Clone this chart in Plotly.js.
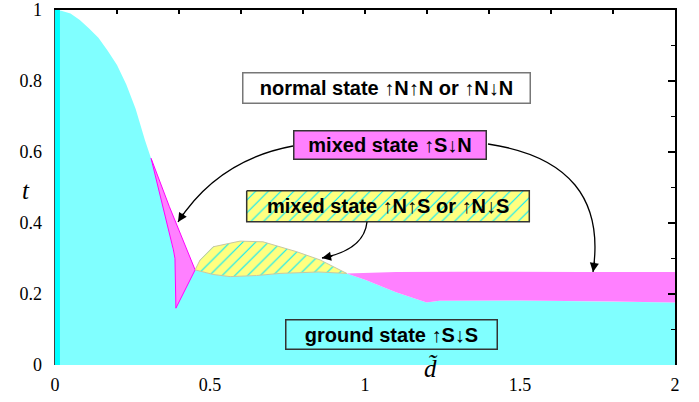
<!DOCTYPE html>
<html>
<head>
<meta charset="utf-8">
<script src="https://cdn.plot.ly/plotly-3.0.1.min.js"></script>
<style>html,body{margin:0;padding:0;background:#fff;}#chart{width:699px;height:402px;}</style>
</head>
<body>
<div id="chart"></div>
<script>
// ---- data ----
// upper edge of the ground state region (↑S↓S)
const groundX = [0, 0.02, 0.05, 0.08, 0.11, 0.14, 0.17, 0.2, 0.23, 0.26, 0.29, 0.31, 0.349, 0.382, 0.387, 0.39, 0.452, 0.51, 0.565, 0.65, 0.726, 0.85, 0.941, 1.0, 1.1, 1.199, 1.24, 1.5, 1.8, 2.0];
const groundT = [1, 0.998, 0.99, 0.972, 0.948, 0.922, 0.885, 0.845, 0.79, 0.722, 0.634, 0.582, 0.446, 0.324, 0.30, 0.16, 0.268, 0.255, 0.249, 0.252, 0.258, 0.262, 0.258, 0.24, 0.205, 0.176, 0.181, 0.182, 0.179, 0.176];
// mixed state ↑S↓N : narrow sliver near d~0.3-0.45
const sliverX = [0.31, 0.349, 0.382, 0.387, 0.39, 0.452, 0.41, 0.369, 0.31];
const sliverT = [0.582, 0.446, 0.324, 0.30, 0.16, 0.268, 0.36, 0.446, 0.582];
// mixed state ↑S↓N : band for d > 0.94 (upper edge)
const bandTopX = [0.941, 1.1, 1.3, 1.5, 1.7, 2.0];
const bandTopT = [0.258, 0.262, 0.263, 0.262, 0.262, 0.262];
// mixed state ↑N↑S or ↑N↓S : hatched dome (upper edge)
const domeTopX = [0.452, 0.468, 0.51, 0.597, 0.671, 0.78, 0.855, 0.941];
const domeTopT = [0.268, 0.296, 0.333, 0.349, 0.347, 0.319, 0.296, 0.258];
// thin strip at d≈0
const stripX = [0, 0.016];
const stripT = [0, 1];
// ticks
const xTicks = [0, 0.5, 1, 1.5, 2];
const xTickText = ['0', '0.5', '1', '1.5', '2'];
const yTicks = [0, 0.2, 0.4, 0.6, 0.8, 1];
const yTickText = ['0', '0.2', '0.4', '0.6', '0.8', '1'];
// labels
const labels = {
  normal: 'normal state ↑N↑N or ↑N↓N',
  mixedSN: 'mixed state ↑S↓N',
  mixedNS: 'mixed state ↑N↑S or ↑N↓S',
  ground: 'ground state ↑S↓S'
};

// ---- geometry helpers (pixel -> data) ----
const W = 699, H = 402;
const PL = 55, PR = 675, PT = 10, PB = 365;
const fx = p => (p - PL) / (PR - PL) * 2;
const fy = p => (PB - p) / (PB - PT);

function groundBetween(a, b) {
  const xs = [], ys = [];
  for (let i = 0; i < groundX.length; i++) {
    if (groundX[i] >= a - 1e-9 && groundX[i] <= b + 1e-9) { xs.push(groundX[i]); ys.push(groundT[i]); }
  }
  return {x: xs, y: ys};
}
const bandBot = groundBetween(0.941, 2.0);
const domeBot = groundBetween(0.452, 0.941);

const traces = [];
traces.push({x: groundX, y: groundT, type: 'scatter', mode: 'lines', fill: 'tozeroy',
  fillcolor: '#80ffff', line: {width: 0, color: '#80ffff'}, hoverinfo: 'skip', showlegend: false});
traces.push({x: [stripX[0], stripX[1], stripX[1], stripX[0], stripX[0]],
  y: [stripT[0], stripT[0], stripT[1], stripT[1], stripT[0]], type: 'scatter', mode: 'lines',
  fill: 'toself', fillcolor: '#00ffff', line: {width: 0, color: '#00ffff'}, hoverinfo: 'skip', showlegend: false});
traces.push({x: sliverX, y: sliverT, type: 'scatter', mode: 'lines', fill: 'toself',
  fillcolor: '#ff80ff', line: {width: 1, color: '#ff00ff'}, hoverinfo: 'skip', showlegend: false});
traces.push({x: bandTopX.concat(bandBot.x.slice().reverse()), y: bandTopT.concat(bandBot.y.slice().reverse()),
  type: 'scatter', mode: 'lines', fill: 'toself', fillcolor: '#ff80ff',
  line: {width: 0, color: '#ff80ff'}, hoverinfo: 'skip', showlegend: false});
traces.push({x: domeTopX.concat(domeBot.x.slice().reverse()), y: domeTopT.concat(domeBot.y.slice().reverse()),
  type: 'scatter', mode: 'lines', fill: 'toself', fillcolor: '#ffff80',
  fillpattern: {shape: '/', fgcolor: '#00e8ff', bgcolor: '#ffff80', size: 9, solidity: 0.12},
  line: {width: 1, color: '#c8c8a0'}, hoverinfo: 'skip', showlegend: false});
// hatched label box background
const hb = {l: 246.7, r: 529.3, t: 190.7, b: 221.7};
traces.push({x: [fx(hb.l), fx(hb.r), fx(hb.r), fx(hb.l), fx(hb.l)], y: [fy(hb.t), fy(hb.t), fy(hb.b), fy(hb.b), fy(hb.t)],
  type: 'scatter', mode: 'lines', fill: 'toself', fillcolor: '#ffff80',
  fillpattern: {shape: '/', fgcolor: '#00e8ff', bgcolor: '#ffff80', size: 9, solidity: 0.12},
  line: {width: 1.5, color: '#333'}, hoverinfo: 'skip', showlegend: false});
// dummy trace for top/right frame axes
traces.push({x: [0], y: [0], xaxis: 'x2', yaxis: 'y2', type: 'scatter', mode: 'markers',
  marker: {opacity: 0}, hoverinfo: 'skip', showlegend: false});

function qpath(p0, p1, p2) {
  return 'M ' + fx(p0[0]) + ',' + fy(p0[1]) + ' Q ' + fx(p1[0]) + ',' + fy(p1[1]) + ' ' + fx(p2[0]) + ',' + fy(p2[1]);
}
const arrows = [
  {p0: [293, 146], p1: [218, 160], p2: [178, 222]},
  {p0: [488, 144], p1: [609.5, 162], p2: [593, 272]},
  {p0: [367, 222], p1: [364, 250], p2: [322, 258]}
];
const shapes = arrows.map(a => ({type: 'path', xref: 'x', yref: 'y', path: qpath(a.p0, a.p1, a.p2),
  line: {color: '#000', width: 1.3}, layer: 'above'}));

const annFont = {family: 'Liberation Sans, Arial, sans-serif', size: 20, color: '#000'};
const annotations = [
  {xref: 'x', yref: 'y', x: fx(386), y: fy(88), text: '<b>' + labels.normal + '</b>', showarrow: false,
    font: annFont, bgcolor: '#fff', bordercolor: '#777', borderwidth: 1.5, borderpad: 0, width: 286, height: 29},
  {xref: 'x', yref: 'y', x: fx(390), y: fy(145), text: '<b>' + labels.mixedSN + '</b>', showarrow: false,
    font: annFont, bgcolor: '#ff80ff', bordercolor: '#333', borderwidth: 1.5, borderpad: 0, width: 191, height: 27},
  {xref: 'x', yref: 'y', x: fx(388), y: fy(206), text: '<b>' + labels.mixedNS + '</b>', showarrow: false,
    font: annFont},
  {xref: 'x', yref: 'y', x: fx(391), y: fy(334), text: '<b>' + labels.ground + '</b>', showarrow: false,
    font: annFont, bordercolor: '#333', borderwidth: 1.5, borderpad: 0, width: 210, height: 28},
  {xref: 'paper', yref: 'paper', x: (20 - PL) / (PR - PL), y: (PB - 190) / (PB - PT), text: 't', showarrow: false,
    font: {family: 'Liberation Serif, Times New Roman, serif', size: 25, style: 'italic', color: '#000'}},
  {xref: 'paper', yref: 'paper', x: (430 - PL) / (PR - PL), y: (PB - 384) / (PB - PT), text: 'd\u0303', showarrow: false,
    font: {family: 'Liberation Serif, Times New Roman, serif', size: 25, style: 'italic', color: '#000'}}
];
arrows.forEach(a => {
  const dx = a.p2[0] - a.p1[0], dy = a.p2[1] - a.p1[1];
  const n = Math.sqrt(dx * dx + dy * dy);
  annotations.push({xref: 'x', yref: 'y', x: fx(a.p2[0]), y: fy(a.p2[1]), ax: -dx / n * 12, ay: -dy / n * 12,
    text: '', showarrow: true, arrowhead: 2, arrowsize: 1.4, arrowwidth: 1.3, arrowcolor: '#000', standoff: 0});
});

const tickFont = {family: 'Liberation Serif, Times New Roman, serif', size: 18, color: '#000'};
const layout = {
  width: W, height: H,
  margin: {l: PL, r: W - PR, t: PT, b: H - PB},
  paper_bgcolor: '#fff', plot_bgcolor: '#fff',
  showlegend: false,
  xaxis: {range: [0, 2], tickvals: xTicks, ticktext: xTickText, showgrid: false, zeroline: false,
    showline: false, ticks: '', tickfont: tickFont, ticklabelstandoff: 7, fixedrange: true},
  yaxis: {range: [0, 1], tickvals: yTicks, ticktext: yTickText, showgrid: false, zeroline: false,
    showline: true, linecolor: '#444', linewidth: 1.5, ticks: '', tickfont: tickFont, ticklabelstandoff: 8, fixedrange: true},
  xaxis2: {range: [0, 2], overlaying: 'x', side: 'top', anchor: 'y2', showgrid: false, zeroline: false,
    showline: true, linecolor: '#000', linewidth: 2, ticks: 'inside', dtick: 0.2, tick0: 0, ticklen: 4,
    tickcolor: '#000', tickwidth: 1.5, showticklabels: false, fixedrange: true},
  yaxis2: {range: [0, 1], overlaying: 'y', side: 'right', anchor: 'x2', showgrid: false, zeroline: false,
    showline: true, linecolor: '#000', linewidth: 2, ticks: 'inside', dtick: 0.2, tick0: 0, ticklen: 7,
    tickcolor: '#000', tickwidth: 1.5, showticklabels: false, fixedrange: true,
    minor: {dtick: 0.1, ticks: 'inside', ticklen: 4, tickcolor: '#000', tickwidth: 1.5}},
  shapes: shapes,
  annotations: annotations
};
Plotly.newPlot('chart', traces, layout, {displayModeBar: false, staticPlot: true});
</script>
</body>
</html>
